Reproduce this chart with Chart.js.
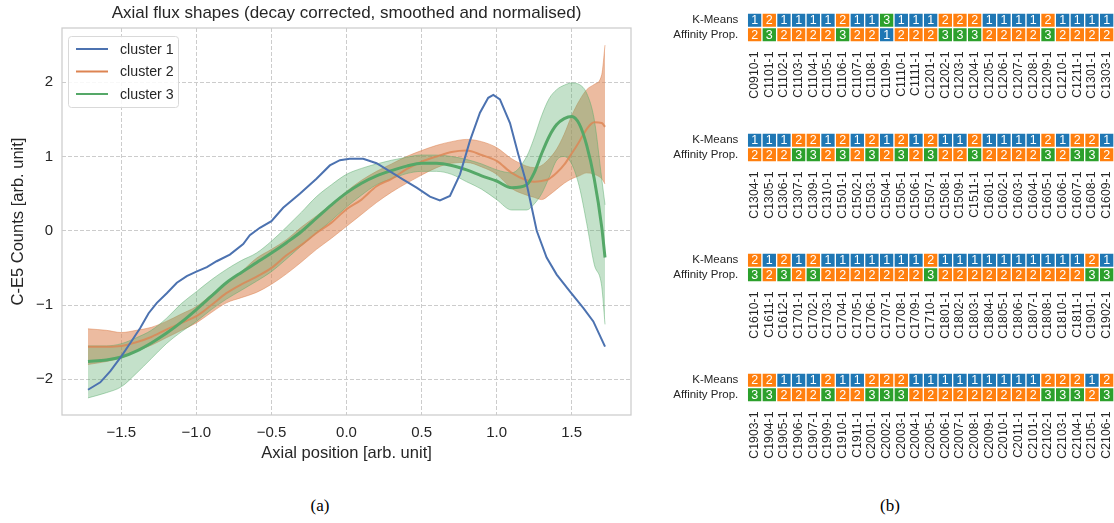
<!DOCTYPE html>
<html>
<head>
<meta charset="utf-8">
<script src="https://cdn.jsdelivr.net/npm/chart.js@4.4.1/dist/chart.umd.min.js"></script>
<style>
  body { margin: 0; background: #fff; width: 1114px; height: 523px; overflow: hidden; position: relative; }
  canvas { position: absolute; }
  #flux { left: 0; top: 0; }
  .caption { position: absolute; top: 496px; width: 60px; text-align: center;
             font-family: "Liberation Serif", "Times New Roman", serif; font-size: 17px; color: #000; }
</style>
</head>
<body>
<canvas id="flux" width="640" height="470"></canvas>
<canvas id="grid1" width="454" height="100"></canvas>
<canvas id="grid2" width="454" height="100"></canvas>
<canvas id="grid3" width="454" height="100"></canvas>
<canvas id="grid4" width="454" height="100"></canvas>
<div class="caption" style="left:290px">(a)</div>
<div class="caption" style="left:860px">(b)</div>
<script>
// ---- (a) axial flux shapes ----
const xPos = [-1.722, -1.6, -1.5, -1.4, -1.3, -1.2, -1.1, -1.0, -0.9, -0.8, -0.7, -0.6, -0.5, -0.4, -0.3, -0.2, -0.1,
  0.0, 0.1, 0.2, 0.3, 0.4, 0.5, 0.6, 0.7, 0.8, 0.9, 1.0, 1.1, 1.2, 1.25, 1.3, 1.35, 1.4, 1.45, 1.5, 1.55, 1.6, 1.65, 1.7, 1.722];

const cluster2Mean = [-1.56, -1.56, -1.55, -1.50, -1.43, -1.33, -1.24, -1.15, -1.00, -0.84, -0.72, -0.62, -0.50, -0.33, -0.19, -0.03, 0.11,
  0.29, 0.42, 0.60, 0.70, 0.83, 0.93, 1.00, 1.06, 1.08, 1.02, 0.94, 0.78, 0.68, 0.66, 0.67, 0.70, 0.78, 0.89, 1.04, 1.20, 1.37, 1.46, 1.45, 1.40];
const cluster2Upper = [-1.32, -1.34, -1.37, -1.34, -1.30, -1.22, -1.12, -1.02, -0.86, -0.70, -0.55, -0.37, -0.25, -0.12, 0.05, 0.20, 0.36,
  0.53, 0.68, 0.80, 0.90, 1.00, 1.08, 1.15, 1.20, 1.23, 1.20, 1.12, 0.97, 0.87, 0.85, 0.88, 0.97, 1.10, 1.30, 1.55, 1.75, 1.90, 1.97, 2.10, 2.50];
const cluster2Lower = [-1.80, -1.76, -1.71, -1.62, -1.54, -1.44, -1.34, -1.24, -1.10, -0.97, -0.90, -0.83, -0.72, -0.58, -0.42, -0.25, -0.10,
  0.06, 0.22, 0.38, 0.52, 0.64, 0.75, 0.85, 0.91, 0.92, 0.86, 0.76, 0.57, 0.48, 0.45, 0.42, 0.48, 0.56, 0.64, 0.70, 0.74, 0.78, 0.76, 0.70, 0.63];

const cluster3Mean = [-1.76, -1.74, -1.70, -1.62, -1.51, -1.38, -1.23, -1.06, -0.88, -0.70, -0.56, -0.43, -0.30, -0.16, -0.01, 0.17, 0.35,
  0.51, 0.64, 0.74, 0.81, 0.87, 0.91, 0.91, 0.88, 0.82, 0.74, 0.67, 0.58, 0.62, 0.78, 1.04, 1.27, 1.43, 1.51, 1.54, 1.44, 1.15, 0.70, 0.05, -0.36];
const cluster3Upper = [-1.55, -1.55, -1.52, -1.44, -1.34, -1.18, -0.98, -0.82, -0.66, -0.52, -0.40, -0.30, -0.14, 0.05, 0.25, 0.46, 0.62,
  0.76, 0.84, 0.90, 0.95, 0.99, 1.02, 1.02, 1.00, 0.96, 0.90, 0.82, 0.78, 1.00, 1.25, 1.55, 1.78, 1.90, 1.96, 1.99, 1.97, 1.85, 1.50, 0.70, 0.35];
const cluster3Lower = [-2.25, -2.18, -2.10, -1.92, -1.72, -1.52, -1.36, -1.22, -1.06, -0.92, -0.80, -0.68, -0.55, -0.38, -0.20, -0.03, 0.14,
  0.32, 0.48, 0.62, 0.70, 0.77, 0.80, 0.80, 0.76, 0.66, 0.56, 0.42, 0.28, 0.28, 0.36, 0.50, 0.72, 0.95, 1.00, 0.90, 0.60, 0.10, -0.45, -0.75, -1.26];

const cluster1X = [-1.722, -1.64, -1.573, -1.5, -1.44, -1.374, -1.318, -1.263, -1.197, -1.13, -1.064, -1.0, -0.93, -0.865, -0.777, -0.688,
  -0.644, -0.577, -0.5, -0.422, -0.311, -0.2, -0.111, -0.044, 0.022, 0.111, 0.2, 0.289, 0.378, 0.467, 0.556, 0.622, 0.689, 0.756,
  0.822, 0.889, 0.944, 0.978, 1.022, 1.089, 1.144, 1.2, 1.267, 1.333, 1.4, 1.489, 1.578, 1.644, 1.722];
const cluster1Y = [-2.14, -2.04, -1.89, -1.69, -1.51, -1.31, -1.11, -0.97, -0.84, -0.70, -0.61, -0.55, -0.49, -0.41, -0.32, -0.18,
  -0.06, 0.04, 0.13, 0.31, 0.50, 0.70, 0.88, 0.95, 0.97, 0.97, 0.91, 0.80, 0.69, 0.58, 0.46, 0.41, 0.47, 0.76,
  1.21, 1.59, 1.79, 1.83, 1.77, 1.45, 1.03, 0.63, 0.00, -0.36, -0.59, -0.82, -1.04, -1.22, -1.56];

const xTicks = [-1.5, -1.0, -0.5, 0.0, 0.5, 1.0, 1.5];
const yTicks = [-2, -1, 0, 1, 2];

const blue = '#4c72b0', orange = '#dd8452', green = '#55a868';
const sansFont = '"Liberation Sans", Arial, sans-serif';
const pts = (xs, ys) => xs.map((x, i) => ({ x: x, y: ys[i] }));
const fmt = s => s.replace('-', '\u2212');

const frame = {
  id: 'frame',
  afterDatasetsDraw(chart) {
    const { ctx, chartArea: a } = chart;
    ctx.save();
    ctx.strokeStyle = '#cccccc';
    ctx.lineWidth = 1.25;
    ctx.strokeRect(a.left, a.top, a.right - a.left, a.bottom - a.top);
    ctx.restore();
  }
};

const boxLegend = {
  id: 'boxLegend',
  afterDraw(chart) {
    const { ctx, chartArea: a } = chart;
    const items = chart.data.datasets.filter(d => d.legend);
    const x0 = a.left + 6, y0 = a.top + 8, w = 110, h = 71;
    ctx.save();
    ctx.beginPath();
    ctx.roundRect(x0 + 0.5, y0 + 0.5, w, h, 3);
    ctx.fillStyle = 'rgba(255,255,255,0.85)';
    ctx.fill();
    ctx.strokeStyle = '#d9d9d9';
    ctx.lineWidth = 1;
    ctx.stroke();
    ctx.font = '14.2px ' + sansFont;
    ctx.textBaseline = 'middle';
    items.forEach((d, i) => {
      const y = y0 + 13 + i * 22.5;
      ctx.strokeStyle = d.borderColor;
      ctx.lineWidth = 2;
      ctx.beginPath();
      ctx.moveTo(x0 + 8, y);
      ctx.lineTo(x0 + 40, y);
      ctx.stroke();
      ctx.fillStyle = '#262626';
      ctx.fillText(d.label, x0 + 52, y + 1);
    });
    ctx.restore();
  }
};

new Chart(document.getElementById('flux'), {
  type: 'line',
  data: {
    datasets: [
      { label: 'cluster 1', legend: true, data: pts(cluster1X, cluster1Y), borderColor: blue, borderWidth: 2, tension: 0 },
      { label: 'cluster 3 mean', data: pts(xPos, cluster3Mean), borderColor: green, borderWidth: 3, cubicInterpolationMode: 'monotone' },
      { label: 'cluster 2 mean', data: pts(xPos, cluster2Mean), borderColor: 'rgba(221,132,82,0.8)', borderWidth: 2, cubicInterpolationMode: 'monotone' },
      { label: 'cluster 3 upper', data: pts(xPos, cluster3Upper), borderColor: 'rgba(85,168,104,0.45)', borderWidth: 1,
        backgroundColor: 'rgba(85,168,104,0.35)', fill: '+1', cubicInterpolationMode: 'monotone' },
      { label: 'cluster 3 lower', data: pts(xPos, cluster3Lower), borderColor: 'rgba(85,168,104,0.45)', borderWidth: 1, cubicInterpolationMode: 'monotone' },
      { label: 'cluster 2 upper', data: pts(xPos, cluster2Upper), borderColor: 'rgba(221,132,82,0.5)', borderWidth: 1,
        backgroundColor: 'rgba(221,132,82,0.55)', fill: '+1', cubicInterpolationMode: 'monotone' },
      { label: 'cluster 2 lower', data: pts(xPos, cluster2Lower), borderColor: 'rgba(221,132,82,0.5)', borderWidth: 1, cubicInterpolationMode: 'monotone' },
      // legend only entries
      { label: 'cluster 2', legend: true, data: [], borderColor: orange },
      { label: 'cluster 3', legend: true, data: [], borderColor: green }
    ]
  },
  options: {
    responsive: false,
    animation: false,
    events: [],
    elements: { point: { radius: 0 } },
    layout: { padding: { right: 9 } },
    plugins: {
      legend: { display: false },
      tooltip: { enabled: false },
      title: {
        display: true,
        fullSize: false,
        text: 'Axial flux shapes (decay corrected, smoothed and normalised)',
        color: '#262626',
        font: { family: sansFont, size: 17, weight: 'normal' },
        padding: { top: 3, bottom: 4.6 }
      }
    },
    scales: {
      x: {
        type: 'linear', min: -1.895, max: 1.895,
        afterBuildTicks: s => { s.ticks = xTicks.map(v => ({ value: v })); },
        afterFit: s => { s.height = 55; },
        ticks: { color: '#262626', padding: 9, font: { family: sansFont, size: 15 },
                 callback: v => fmt(v.toFixed(1)) },
        grid: { color: '#cccccc', drawTicks: false },
        border: { display: false, dash: [4, 2] },
        title: { display: true, text: 'Axial position [arb. unit]', color: '#262626',
                 font: { family: sansFont, size: 16.5 }, padding: { bottom: 6.2 } }
      },
      y: {
        type: 'linear', min: -2.48, max: 2.73,
        afterBuildTicks: s => { s.ticks = yTicks.map(v => ({ value: v })); },
        afterFit: s => { s.width = 62; },
        ticks: { color: '#262626', padding: 9, font: { family: sansFont, size: 15 },
                 callback: v => fmt(String(v)) },
        grid: { color: '#cccccc', drawTicks: false },
        border: { display: false, dash: [4, 2] },
        title: { display: true, text: 'C-E5 Counts [arb. unit]', color: '#262626',
                 font: { family: sansFont, size: 16.5 }, padding: { top: 8.2 } }
      }
    }
  },
  plugins: [frame, boxLegend]
});

// ---- (b) cluster assignments per run ----
const runs1 = ['C0910-1', 'C1101-1', 'C1102-1', 'C1103-1', 'C1104-1', 'C1105-1', 'C1106-1', 'C1107-1', 'C1108-1', 'C1109-1',
  'C1110-1', 'C1111-1', 'C1201-1', 'C1202-1', 'C1203-1', 'C1204-1', 'C1205-1', 'C1206-1', 'C1207-1', 'C1208-1',
  'C1209-1', 'C1210-1', 'C1211-1', 'C1301-1', 'C1303-1'];
const kmeans1 = [1, 2, 1, 1, 1, 1, 2, 1, 1, 3, 1, 1, 1, 2, 2, 2, 1, 1, 1, 1, 2, 1, 1, 1, 1];
const affprop1 = [2, 3, 2, 2, 2, 2, 3, 2, 2, 1, 2, 2, 2, 3, 3, 3, 2, 2, 2, 2, 3, 2, 2, 2, 2];

const runs2 = ['C1304-1', 'C1305-1', 'C1306-1', 'C1307-1', 'C1309-1', 'C1310-1', 'C1501-1', 'C1502-1', 'C1503-1', 'C1504-1',
  'C1505-1', 'C1506-1', 'C1507-1', 'C1508-1', 'C1509-1', 'C1511-1', 'C1601-1', 'C1602-1', 'C1603-1', 'C1604-1',
  'C1605-1', 'C1606-1', 'C1607-1', 'C1608-1', 'C1609-1'];
const kmeans2 = [1, 1, 1, 2, 2, 1, 2, 1, 2, 1, 2, 1, 2, 1, 1, 2, 1, 1, 1, 1, 2, 1, 2, 2, 1];
const affprop2 = [2, 2, 2, 3, 3, 2, 3, 2, 3, 2, 3, 2, 3, 2, 2, 3, 2, 2, 2, 2, 3, 2, 3, 3, 2];

const runs3 = ['C1610-1', 'C1611-1', 'C1612-1', 'C1701-1', 'C1702-1', 'C1703-1', 'C1704-1', 'C1705-1', 'C1706-1', 'C1707-1',
  'C1708-1', 'C1709-1', 'C1710-1', 'C1801-1', 'C1802-1', 'C1803-1', 'C1804-1', 'C1805-1', 'C1806-1', 'C1807-1',
  'C1808-1', 'C1810-1', 'C1811-1', 'C1901-1', 'C1902-1'];
const kmeans3 = [2, 1, 2, 1, 2, 1, 1, 1, 1, 1, 1, 1, 2, 1, 1, 1, 1, 1, 1, 1, 1, 1, 1, 2, 1];
const affprop3 = [3, 2, 3, 2, 3, 2, 2, 2, 2, 2, 2, 2, 3, 2, 2, 2, 2, 2, 2, 2, 2, 2, 2, 3, 3];

const runs4 = ['C1903-1', 'C1904-1', 'C1905-1', 'C1906-1', 'C1907-1', 'C1909-1', 'C1910-1', 'C1911-1', 'C2001-1', 'C2002-1',
  'C2003-1', 'C2004-1', 'C2005-1', 'C2006-1', 'C2007-1', 'C2008-1', 'C2009-1', 'C2010-1', 'C2011-1', 'C2101-1',
  'C2102-1', 'C2103-1', 'C2104-1', 'C2105-1', 'C2106-1'];
const kmeans4 = [2, 2, 1, 1, 1, 2, 1, 1, 2, 2, 2, 1, 1, 1, 1, 1, 1, 1, 1, 1, 2, 2, 2, 1, 2];
const affprop4 = [3, 3, 2, 2, 2, 3, 2, 2, 3, 3, 3, 2, 2, 2, 2, 2, 2, 2, 2, 2, 3, 3, 3, 2, 3];

const methods = ['K-Means', 'Affinity Prop.'];
const tab10 = ['#1f77b4', '#ff7f0e', '#2ca02c'];

const cellText = {
  id: 'cellText',
  afterDatasetsDraw(chart) {
    const ctx = chart.ctx;
    ctx.save();
    ctx.font = '12.5px ' + sansFont;
    ctx.fillStyle = '#ffffff';
    ctx.textAlign = 'center';
    ctx.textBaseline = 'middle';
    chart.data.datasets.forEach((d, di) => {
      chart.getDatasetMeta(di).data.forEach((el, i) => {
        ctx.fillText(String(d.ids[i]), el.x, (el.y + el.base) / 2 + 0.5);
      });
    });
    ctx.restore();
  }
};

function drawGrid(id, top, runs, km, ap) {
  const cv = document.getElementById(id);
  cv.style.left = '660px';
  cv.style.top = top + 'px';
  new Chart(cv, {
    type: 'bar',
    data: {
      labels: runs,
      datasets: [
        { label: methods[0], ids: km, data: km.map(() => [1, 2]), backgroundColor: km.map(v => tab10[v - 1]) },
        { label: methods[1], ids: ap, data: ap.map(() => [0, 1]), backgroundColor: ap.map(v => tab10[v - 1]) }
      ]
    },
    options: {
      responsive: false,
      animation: false,
      events: [],
      layout: { autoPadding: false, padding: { top: 3 } },
      datasets: { bar: { grouped: false, categoryPercentage: 1, barPercentage: 1, borderWidth: 1,
                         borderColor: 'rgba(255,255,255,0.75)', borderSkipped: false } },
      plugins: { legend: { display: false }, tooltip: { enabled: false } },
      scales: {
        x: {
          offset: true,
          afterFit: s => { s.height = 68; s.paddingLeft = 0; s.paddingRight = 0; },
          grid: { display: false, drawTicks: false }, border: { display: false },
          ticks: { autoSkip: false, minRotation: 90, maxRotation: 90, padding: 9.5, color: '#262626',
                   font: { family: sansFont, size: 12.3 } }
        },
        y: {
          type: 'linear', min: 0, max: 2,
          afterBuildTicks: s => { s.ticks = [{ value: 0.5 }, { value: 1.5 }]; },
          afterFit: s => { s.width = 87.3; s.paddingTop = 0; s.paddingBottom = 0; },
          grid: { display: false, drawTicks: false }, border: { display: false },
          ticks: { autoSkip: false, padding: 9, color: '#262626', font: { family: sansFont, size: 11.5 },
                   callback: v => v > 1 ? methods[0] : methods[1] }
        }
      }
    },
    plugins: [cellText]
  });
}

drawGrid('grid1', 10, runs1, kmeans1, affprop1);
drawGrid('grid2', 130, runs2, kmeans2, affprop2);
drawGrid('grid3', 250, runs3, kmeans3, affprop3);
drawGrid('grid4', 370, runs4, kmeans4, affprop4);
</script>
</body>
</html>
